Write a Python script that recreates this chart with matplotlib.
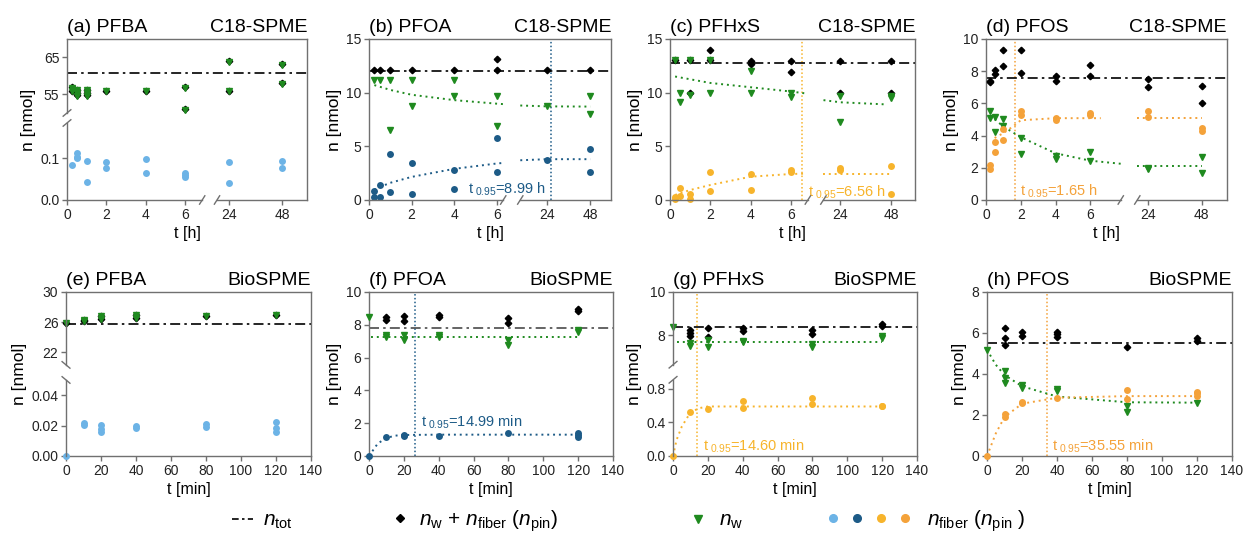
import numpy as np
import matplotlib.pyplot as plt
from matplotlib.lines import Line2D
from matplotlib.legend_handler import HandlerTuple

plt.rcParams['font.family'] = ['Liberation Sans', 'DejaVu Sans']
plt.rcParams['mathtext.fontset'] = 'custom'
plt.rcParams['mathtext.rm'] = 'Liberation Sans'
plt.rcParams['mathtext.it'] = 'Liberation Sans:italic'
plt.rcParams['mathtext.bf'] = 'Liberation Sans:bold'

GREEN = '#1f8a1f'
LBLUE = '#6cb3e6'
DBLUE = '#1d5b87'
ORANGE1 = '#f7b42c'
ORANGE2 = '#f4a23a'
SPINE = '#707070'

# ---------------- data ----------------
# (a) PFBA, C18-SPME  [t in h, n in nmol]
a_t_sum = [0.25, 0.25, 0.5, 0.5, 0.5, 1, 1, 1, 2, 4, 6, 6, 24, 24, 48, 48]
a_sum = [56.9, 56.0, 56.2, 55.5, 54.8, 56.2, 55.5, 54.8, 56.0, 56.0, 56.9, 51.0, 64.0, 56.0, 63.1, 58.0]
a_t_w = a_t_sum
a_w = [56.8, 55.9, 56.1, 55.4, 54.7, 56.1, 55.4, 54.7, 55.9, 55.9, 56.8, 50.9, 63.9, 55.9, 63.0, 57.9]
a_t_fib = [0.25, 0.5, 0.5, 0.5, 1, 1, 2, 2, 4, 4, 6, 6, 6, 24, 24, 48, 48]
a_fib = [0.084, 0.112, 0.104, 0.100, 0.094, 0.042, 0.092, 0.078, 0.098, 0.066,
         0.066, 0.061, 0.056, 0.091, 0.041, 0.094, 0.078]
a_tot = 60.7

# (b) PFOA, C18-SPME
b_t_sum = [0.25, 0.5, 1, 2, 4, 6, 6, 24, 48]
b_sum = [12.1, 12.1, 12.1, 12.1, 12.1, 13.1, 12.1, 12.1, 12.1]
b_t_w = [0.25, 0.5, 1, 1, 2, 2, 4, 4, 6, 6, 24, 48, 48]
b_w = [11.15, 11.15, 11.15, 6.5, 11.15, 8.75, 11.15, 9.7, 9.7, 6.9, 8.8, 9.7, 8.0]
b_t_fib = [0.25, 0.25, 0.5, 0.5, 1, 1, 2, 2, 4, 4, 6, 6, 24, 48, 48]
b_fib = [0.8, 0.3, 1.35, 0.3, 4.25, 0.7, 3.45, 0.6, 2.8, 1.0, 5.75, 2.65, 3.75, 4.75, 2.65]
b_tot = 12.0
b_fit_w1_t = [0.25, 1, 2, 4, 6, 6.3]
b_fit_w1 = [10.7, 10.25, 9.8, 9.3, 8.97, 8.93]
b_fit_w2_t = [9.3, 24, 48]
b_fit_w2 = [8.8, 8.72, 8.7]
b_fit_f1_t = [0.25, 0.5, 1, 2, 4, 6, 6.3]
b_fit_f1 = [0.95, 1.2, 1.6, 2.15, 2.9, 3.4, 3.45]
b_fit_f2_t = [9.3, 24, 48]
b_fit_f2 = [3.7, 3.8, 3.8]
b_t95_pos = 26.2
b_t95_txt = 't$_{\\ 0.95}$=8.99 h'

# (c) PFHxS, C18-SPME
c_t_sum = [0.25, 1, 1, 2, 2, 4, 4, 6, 6, 24, 24, 48, 48]
c_sum = [13.0, 13.0, 9.95, 14.0, 13.0, 12.95, 12.7, 12.95, 11.95, 12.95, 9.95, 12.95, 9.95]
c_t_w = [0.25, 0.5, 0.5, 1, 1, 2, 2, 4, 4, 6, 6, 24, 24, 48, 48]
c_w = [13.0, 9.95, 9.15, 13.0, 9.8, 13.0, 10.0, 12.0, 10.0, 10.0, 9.6, 9.7, 7.3, 9.7, 9.5]
c_t_fib = [0.25, 0.25, 0.5, 0.5, 1, 1, 2, 2, 4, 4, 6, 6, 24, 24, 48, 48]
c_fib = [0.1, 0.3, 1.15, 0.4, 0.6, 0.05, 2.65, 0.8, 2.45, 0.9, 2.8, 2.65, 2.95, 2.8, 3.15, 0.55]
c_tot = 12.8
c_fit_w1_t = [0.25, 2, 4, 6, 6.83]
c_fit_w1 = [11.5, 10.9, 10.5, 10.1, 9.9]
c_fit_w2_t = [16, 24, 46]
c_fit_w2 = [9.3, 9.1, 8.9]
c_fit_f1_t = [0.25, 1, 2, 4, 6, 6.6]
c_fit_f1 = [0.47, 0.93, 1.4, 2.17, 2.42, 2.45]
c_fit_f2_t = [16, 24, 48]
c_fit_f2 = [2.42, 2.42, 2.42]
c_t95_pos = 6.56
c_t95_txt = 't$_{\\ 0.95}$=6.56 h'

# (d) PFOS, C18-SPME
d_t = [0.25, 0.25, 0.5, 0.5, 1, 1, 2, 2, 4, 4, 6, 6, 24, 24, 48, 48]
d_sum = [7.4, 7.3, 7.8, 8.1, 9.3, 8.3, 9.3, 7.9, 7.7, 7.4, 8.4, 7.7, 7.5, 7.0, 7.1, 6.0]
d_w = [5.55, 5.1, 5.15, 4.25, 5.0, 4.6, 3.85, 2.85, 2.75, 2.55, 3.0, 2.45, 2.0, 1.9, 2.65, 1.67]
d_fib = [2.2, 1.9, 3.6, 3.0, 4.4, 3.7, 5.55, 5.25, 5.1, 4.95, 5.4, 5.3, 5.55, 5.15, 4.5, 4.3]
d_tot = 7.58
d_fit_w1_t = [0.25, 1, 2, 4, 6, 7.75]
d_fit_w1 = [5.25, 4.56, 3.9, 2.9, 2.44, 2.25]
d_fit_w2_t = [19.1, 48]
d_fit_w2 = [2.1, 2.1]
d_fit_f1_t = [0.5, 1, 1.6, 2, 4, 6, 6.6]
d_fit_f1 = [3.85, 4.15, 4.6, 4.95, 5.08, 5.08, 5.08]
d_fit_f2_t = [19.1, 48]
d_fit_f2 = [5.08, 5.08]
d_t95_pos = 1.65
d_t95_txt = 't$_{\\ 0.95}$=1.65 h'

# (e) PFBA, BioSPME  [t in min]
e_t_sum = [0, 10, 10, 20, 20, 40, 40, 80, 120]
e_sum = [25.9, 26.3, 26.1, 26.75, 26.45, 26.9, 26.6, 26.8, 27.0]
e_t_w = e_t_sum
e_w = [25.9, 26.3, 26.1, 26.75, 26.45, 26.9, 26.6, 26.8, 27.0]
e_t_fib = [0, 10, 10, 20, 20, 20, 40, 40, 80, 80, 120, 120, 120]
e_fib = [0.0, 0.022, 0.0207, 0.0202, 0.018, 0.0158, 0.0198, 0.0187, 0.0209, 0.0191,
         0.0224, 0.0185, 0.0158]
e_tot = 25.8

# (f) PFOA, BioSPME
f_t_sum = [10, 10, 20, 20, 40, 40, 80, 80, 120, 120]
f_sum = [8.5, 8.3, 8.55, 8.2, 8.6, 8.5, 8.4, 8.1, 8.95, 8.85]
f_t_w = [0, 10, 10, 20, 20, 40, 40, 80, 80, 120, 120]
f_w = [8.47, 7.4, 7.25, 7.35, 7.05, 7.4, 7.25, 7.05, 6.75, 7.7, 7.55]
f_t_fib = [0, 10, 20, 20, 40, 80, 120, 120, 120]
f_fib = [0, 1.17, 1.27, 1.2, 1.22, 1.4, 1.4, 1.27, 1.17]
f_tot = 7.78
f_fit_w_t = [1, 120]
f_fit_w = [7.27, 7.27]
f_fit_f_t = [0, 5, 10, 15, 20, 40, 80, 120]
f_fit_f = [0, 0.76, 1.1, 1.24, 1.28, 1.3, 1.3, 1.3]
f_t95_pos = 26.4
f_t95_txt = 't$_{\\ 0.95}$=14.99 min'

# (g) PFHxS, BioSPME
g_t_sum = [10, 10, 10, 20, 20, 40, 40, 80, 80, 120, 120]
g_sum = [8.23, 8.1, 7.95, 8.34, 7.92, 8.34, 8.19, 8.26, 8.08, 8.5, 8.45]
g_t_w = [0, 10, 10, 20, 20, 40, 40, 80, 80, 120, 120]
g_w = [8.39, 7.64, 7.49, 7.8, 7.46, 7.75, 7.7, 7.61, 7.46, 7.95, 7.88]
g_t_fib = [0, 10, 20, 40, 40, 80, 80, 120, 120]
g_fib = [0, 0.53, 0.556, 0.65, 0.57, 0.69, 0.62, 0.6, 0.59]
g_tot = 8.39
g_fit_w_t = [2, 120]
g_fit_w = [7.67, 7.67]
g_fit_f_t = [0, 2, 5, 10, 15, 20, 40, 80, 120]
g_fit_f = [0, 0.19, 0.35, 0.52, 0.57, 0.59, 0.59, 0.59, 0.59]
g_t95_pos = 13.8
g_t95_txt = 't$_{\\ 0.95}$=14.60 min'

# (h) PFOS, BioSPME
h_t_sum = [10, 10, 10, 20, 20, 40, 40, 40, 80, 120, 120]
h_sum = [6.25, 5.75, 5.43, 6.03, 5.87, 6.07, 5.95, 5.82, 5.3, 5.74, 5.6]
h_t_w = [0, 10, 10, 10, 20, 20, 40, 40, 80, 80, 120]
h_w = [5.18, 4.15, 3.82, 3.54, 3.44, 3.3, 3.28, 3.16, 2.46, 2.15, 2.59]
h_t_fib = [0, 10, 10, 20, 20, 40, 80, 80, 120, 120, 120]
h_fib = [0, 2.07, 1.89, 2.62, 2.56, 2.84, 3.21, 2.79, 3.13, 3.05, 2.92]
h_tot = 5.5
h_fit_w_t = [0, 5, 10, 20, 40, 80, 120]
h_fit_w = [5.18, 4.45, 3.95, 3.4, 2.9, 2.62, 2.6]
h_fit_f_t = [0, 5, 10, 20, 40, 80, 120]
h_fit_f = [0, 1.1, 1.9, 2.55, 2.84, 2.92, 2.92]
h_t95_pos = 34.0
h_t95_txt = 't$_{\\ 0.95}$=35.55 min'


# ---------------- helpers ----------------
def piecewise(xk, uk):
    """monotone piecewise-linear map (used for the broken axes)"""
    xk = np.asarray(xk, float)
    uk = np.asarray(uk, float)

    def f(x, a, b):
        x = np.asarray(x, float)
        y = np.interp(x, a, b)
        s0 = (b[1] - b[0]) / (a[1] - a[0])
        s1 = (b[-1] - b[-2]) / (a[-1] - a[-2])
        y = np.where(x < a[0], b[0] + (x - a[0]) * s0, y)
        y = np.where(x > a[-1], b[-1] + (x - a[-1]) * s1, y)
        return y

    return (lambda x: f(x, xk, uk)), (lambda u: f(u, uk, xk))


def to_axes(ax, x, y):
    return ax.transAxes.inverted().transform(ax.transData.transform((x, y)))


LINE_KW = dict(color=SPINE, lw=1.0, clip_on=False, zorder=6)


def break_y(ax, y_lo_top, y_hi_bot, slash='/'):
    f0 = to_axes(ax, ax.get_xlim()[0], y_lo_top)[1]
    f1 = to_axes(ax, ax.get_xlim()[0], y_hi_bot)[1]
    ax.spines['left'].set_visible(False)
    ax.plot([0, 0], [0, f0], transform=ax.transAxes, **LINE_KW)
    ax.plot([0, 0], [f1, 1], transform=ax.transAxes, **LINE_KW)
    s = 1 if slash == '/' else -1
    dx, dy = 0.016, 0.02
    for f in (f0, f1):
        ax.plot([-dx, dx], [f - s * dy, f + s * dy], transform=ax.transAxes, **LINE_KW)


def break_x(ax, x_lo_end, x_hi_start):
    f0 = to_axes(ax, x_lo_end, ax.get_ylim()[0])[0]
    f1 = to_axes(ax, x_hi_start, ax.get_ylim()[0])[0]
    ax.spines['bottom'].set_visible(False)
    ax.plot([0, f0], [0, 0], transform=ax.transAxes, **LINE_KW)
    ax.plot([f1, 1], [0, 0], transform=ax.transAxes, **LINE_KW)
    dx, dy = 0.011, 0.026
    for f in (f0, f1):
        ax.plot([f - dx, f + dx], [-dy, dy], transform=ax.transAxes, **LINE_KW)


def style(ax, left, right, xlabel):
    for sp in ax.spines.values():
        sp.set_color(SPINE)
        sp.set_linewidth(1.0)
    ax.tick_params(direction='out', length=3.5, width=1, color=SPINE,
                   labelsize=10, pad=2, labelcolor='#222222')
    ax.set_title(left, loc='left', fontsize=14, pad=5)
    ax.set_title(right, loc='right', fontsize=14, pad=5)
    ax.set_ylabel('n [nmol]', fontsize=12.5, labelpad=3)
    ax.set_xlabel(xlabel, fontsize=11.5, labelpad=3)


def points(ax, t_sum, n_sum, t_w, n_w, t_fib, n_fib, fcol, n_tot, tot_col='k'):
    ax.axhline(n_tot, color=tot_col, ls=(0, (6, 2.5, 1.5, 2.5)), lw=1.2, zorder=2)
    ax.plot(t_sum, n_sum, 'D', color='k', ms=3.3, clip_on=False, zorder=3)
    ax.plot(t_w, n_w, 'v', color=GREEN, ms=5, clip_on=False, zorder=4)
    ax.plot(t_fib, n_fib, 'o', color=fcol, ms=5, mew=0, clip_on=False, zorder=5)


def fit(ax, t, n, col):
    ax.plot(t, n, ls=(0, (1, 2)), color=col, lw=1.4, zorder=2)


def t95(ax, x, y, txt, col, side='right'):
    ax.axvline(x, ls=(0, (1, 1.5)), color=col, lw=1.1, zorder=1)
    off = 4 if side == 'right' else -4
    ax.annotate(txt, xy=(x, y), xytext=(off, 0), textcoords='offset points',
                ha='left' if side == 'right' else 'right', va='center',
                color=col, fontsize=10.5)


def top_xscale(ax, u24, u48, umax, g0, g1):
    k = (u48 - u24) / 24.0
    s2 = 24 - (u24 - g1) / k
    xmax = 48 + (umax - u48) / k
    fwd, inv = piecewise([0, g0, s2, 24, 48], [0, g0, g1, u24, u48])
    ax.set_xscale('function', functions=(fwd, inv))
    ax.set_xlim(0, xmax)
    ax.set_xticks([0, 2, 4, 6, 24, 48])
    ax.set_xticklabels(['0', '2', '4', '6', '24', '48'])
    return g0, s2


# ---------------- figure ----------------
fig = plt.figure(figsize=(12.48, 5.44), dpi=100)
top_b, top_h = 0.6324, 0.296
bot_b, bot_h = 0.1618, 0.3015
axa = fig.add_axes([0.0537, top_b, 0.1923, top_h])
axb = fig.add_axes([0.2957, top_b, 0.1939, top_h])
axc = fig.add_axes([0.5369, top_b, 0.1963, top_h])
axd = fig.add_axes([0.7900, top_b, 0.1931, top_h])
axe = fig.add_axes([0.0529, bot_b, 0.1963, bot_h])
axf = fig.add_axes([0.2957, bot_b, 0.1955, bot_h])
axg = fig.add_axes([0.5393, bot_b, 0.1955, bot_h])
axh = fig.add_axes([0.7909, bot_b, 0.1963, bot_h])

# (a)
points(axa, a_t_sum, a_sum, a_t_w, a_w, a_t_fib, a_fib, LBLUE, a_tot)
style(axa, '(a) PFBA', 'C18-SPME', 't [h]')
xa = top_xscale(axa, 8.23, 10.9, 12.16, 6.85, 7.6)
fy, iy = piecewise([0, 0.185, 50, 70], [0, 77, 87, 161])
axa.set_yscale('function', functions=(fy, iy))
axa.set_ylim(0, 70)
axa.set_yticks([0, 0.1, 55, 65])
axa.set_yticklabels(['0.0', '0.1', '55', '65'])
break_y(axa, 0.185, 50, '/')
break_x(axa, *xa)

# (b)
points(axb, b_t_sum, b_sum, b_t_w, b_w, b_t_fib, b_fib, DBLUE, b_tot)
fit(axb, b_fit_w1_t, b_fit_w1, GREEN)
fit(axb, b_fit_w2_t, b_fit_w2, GREEN)
fit(axb, b_fit_f1_t, b_fit_f1, DBLUE)
fit(axb, b_fit_f2_t, b_fit_f2, DBLUE)
style(axb, '(b) PFOA', 'C18-SPME', 't [h]')
xb = top_xscale(axb, 8.35, 10.39, 11.36, 6.3, 7.1)
axb.set_ylim(0, 15)
axb.set_yticks([0, 5, 10, 15])
t95(axb, b_t95_pos, 0.95, b_t95_txt, DBLUE, side='left')
break_x(axb, *xb)

# (c)
points(axc, c_t_sum, c_sum, c_t_w, c_w, c_t_fib, c_fib, ORANGE1, c_tot)
fit(axc, c_fit_w1_t, c_fit_w1, GREEN)
fit(axc, c_fit_w2_t, c_fit_w2, GREEN)
fit(axc, c_fit_f1_t, c_fit_f1, ORANGE1)
fit(axc, c_fit_f2_t, c_fit_f2, ORANGE1)
style(axc, '(c) PFHxS', 'C18-SPME', 't [h]')
xc = top_xscale(axc, 8.44, 10.95, 12.14, 6.83, 7.6)
axc.set_ylim(0, 15)
axc.set_yticks([0, 5, 10, 15])
t95(axc, c_t95_pos, 0.7, c_t95_txt, ORANGE1)
break_x(axc, *xc)

# (d)
points(axd, d_t, d_sum, d_t, d_w, d_t, d_fib, ORANGE2, d_tot)
fit(axd, d_fit_w1_t, d_fit_w1, GREEN)
fit(axd, d_fit_w2_t, d_fit_w2, GREEN)
fit(axd, d_fit_f1_t, d_fit_f1, ORANGE2)
fit(axd, d_fit_f2_t, d_fit_f2, ORANGE2)
style(axd, '(d) PFOS', 'C18-SPME', 't [h]')
xd = top_xscale(axd, 9.33, 12.4, 13.85, 7.75, 8.7)
axd.set_ylim(0, 10)
axd.set_yticks([0, 2, 4, 6, 8, 10])
t95(axd, d_t95_pos, 0.56, d_t95_txt, ORANGE2)
break_x(axd, *xd)

# (e)
points(axe, e_t_sum, e_sum, e_t_w, e_w, e_t_fib, e_fib, LBLUE, e_tot)
style(axe, '(e) PFBA', 'BioSPME', 't [min]')
fy, iy = piecewise([0, 0.05, 20.3, 30], [0, 75.7, 90.7, 163.3])
axe.set_yscale('function', functions=(fy, iy))
axe.set_ylim(0, 30)
axe.set_yticks([0, 0.02, 0.04, 22, 26, 30])
axe.set_yticklabels(['0.00', '0.02', '0.04', '22', '26', '30'])
break_y(axe, 0.05, 20.3, '\\')

# (f)
points(axf, f_t_sum, f_sum, f_t_w, f_w, f_t_fib, f_fib, DBLUE, f_tot, tot_col='#4a4a4a')
fit(axf, f_fit_w_t, f_fit_w, GREEN)
fit(axf, f_fit_f_t, f_fit_f, DBLUE)
style(axf, '(f) PFOA', 'BioSPME', 't [min]')
axf.set_ylim(0, 10)
axf.set_yticks([0, 2, 4, 6, 8, 10])
t95(axf, f_t95_pos, 2.08, f_t95_txt, DBLUE)

# (g)
points(axg, g_t_sum, g_sum, g_t_w, g_w, g_t_fib, g_fib, ORANGE1, g_tot)
fit(axg, g_fit_w_t, g_fit_w, GREEN)
fit(axg, g_fit_f_t, g_fit_f, ORANGE1)
style(axg, '(g) PFHxS', 'BioSPME', 't [min]')
fy, iy = piecewise([0, 0.908, 6.64, 10], [0, 75.7, 90.7, 163])
axg.set_yscale('function', functions=(fy, iy))
axg.set_ylim(0, 10)
axg.set_yticks([0, 0.4, 0.8, 8, 10])
axg.set_yticklabels(['0.0', '0.4', '0.8', '8', '10'])
t95(axg, g_t95_pos, 0.11, g_t95_txt, ORANGE1)
break_y(axg, 0.908, 6.64, '/')

# (h)
points(axh, h_t_sum, h_sum, h_t_w, h_w, h_t_fib, h_fib, ORANGE2, h_tot)
fit(axh, h_fit_w_t, h_fit_w, GREEN)
fit(axh, h_fit_f_t, h_fit_f, ORANGE2)
style(axh, '(h) PFOS', 'BioSPME', 't [min]')
axh.set_ylim(0, 8)
axh.set_yticks([0, 2, 4, 6, 8])
t95(axh, h_t95_pos, 0.46, h_t95_txt, ORANGE2)

for ax in (axe, axf, axg, axh):
    ax.set_xlim(0, 140)
    ax.set_xticks(range(0, 141, 20))

# ---------------- legend (four separate entries along the bottom) ----------------
leg_y = 1 - 521 / 544
h_tot = Line2D([], [], color='k', ls=(0, (4, 2, 1.5, 2)), lw=1.2)
h_sum = Line2D([], [], color='k', marker='D', ls='none', ms=4.5)
h_w = Line2D([], [], color=GREEN, marker='v', ls='none', ms=5.5)
h_fib = tuple(Line2D([], [], color=c, marker='o', ls='none', ms=5.5)
              for c in (LBLUE, DBLUE, ORANGE1, ORANGE2))
entries = [
    (h_tot, '$n_\\mathrm{tot}$', 232, 1.0, 0.5),
    (h_sum, '$n_\\mathrm{w}$ + $n_\\mathrm{fiber}$ ($n_\\mathrm{pin}$)', 392, 0.8, 0.5),
    (h_w, '$n_\\mathrm{w}$', 690, 0.8, 0.6),
    (h_fib, '$n_\\mathrm{fiber}$ ($n_\\mathrm{pin}$ )', 827, 4.0, 0.8),
]
for h, lab, x0, hl, tp in entries:
    fig.legend([h], [lab], loc='center left', bbox_to_anchor=(x0 / 1248, leg_y),
               frameon=False, fontsize=15, handlelength=hl, handletextpad=tp,
               borderpad=0, borderaxespad=0,
               handler_map={tuple: HandlerTuple(ndivide=None, pad=0.6)})

fig.savefig('out.png', dpi=100)
